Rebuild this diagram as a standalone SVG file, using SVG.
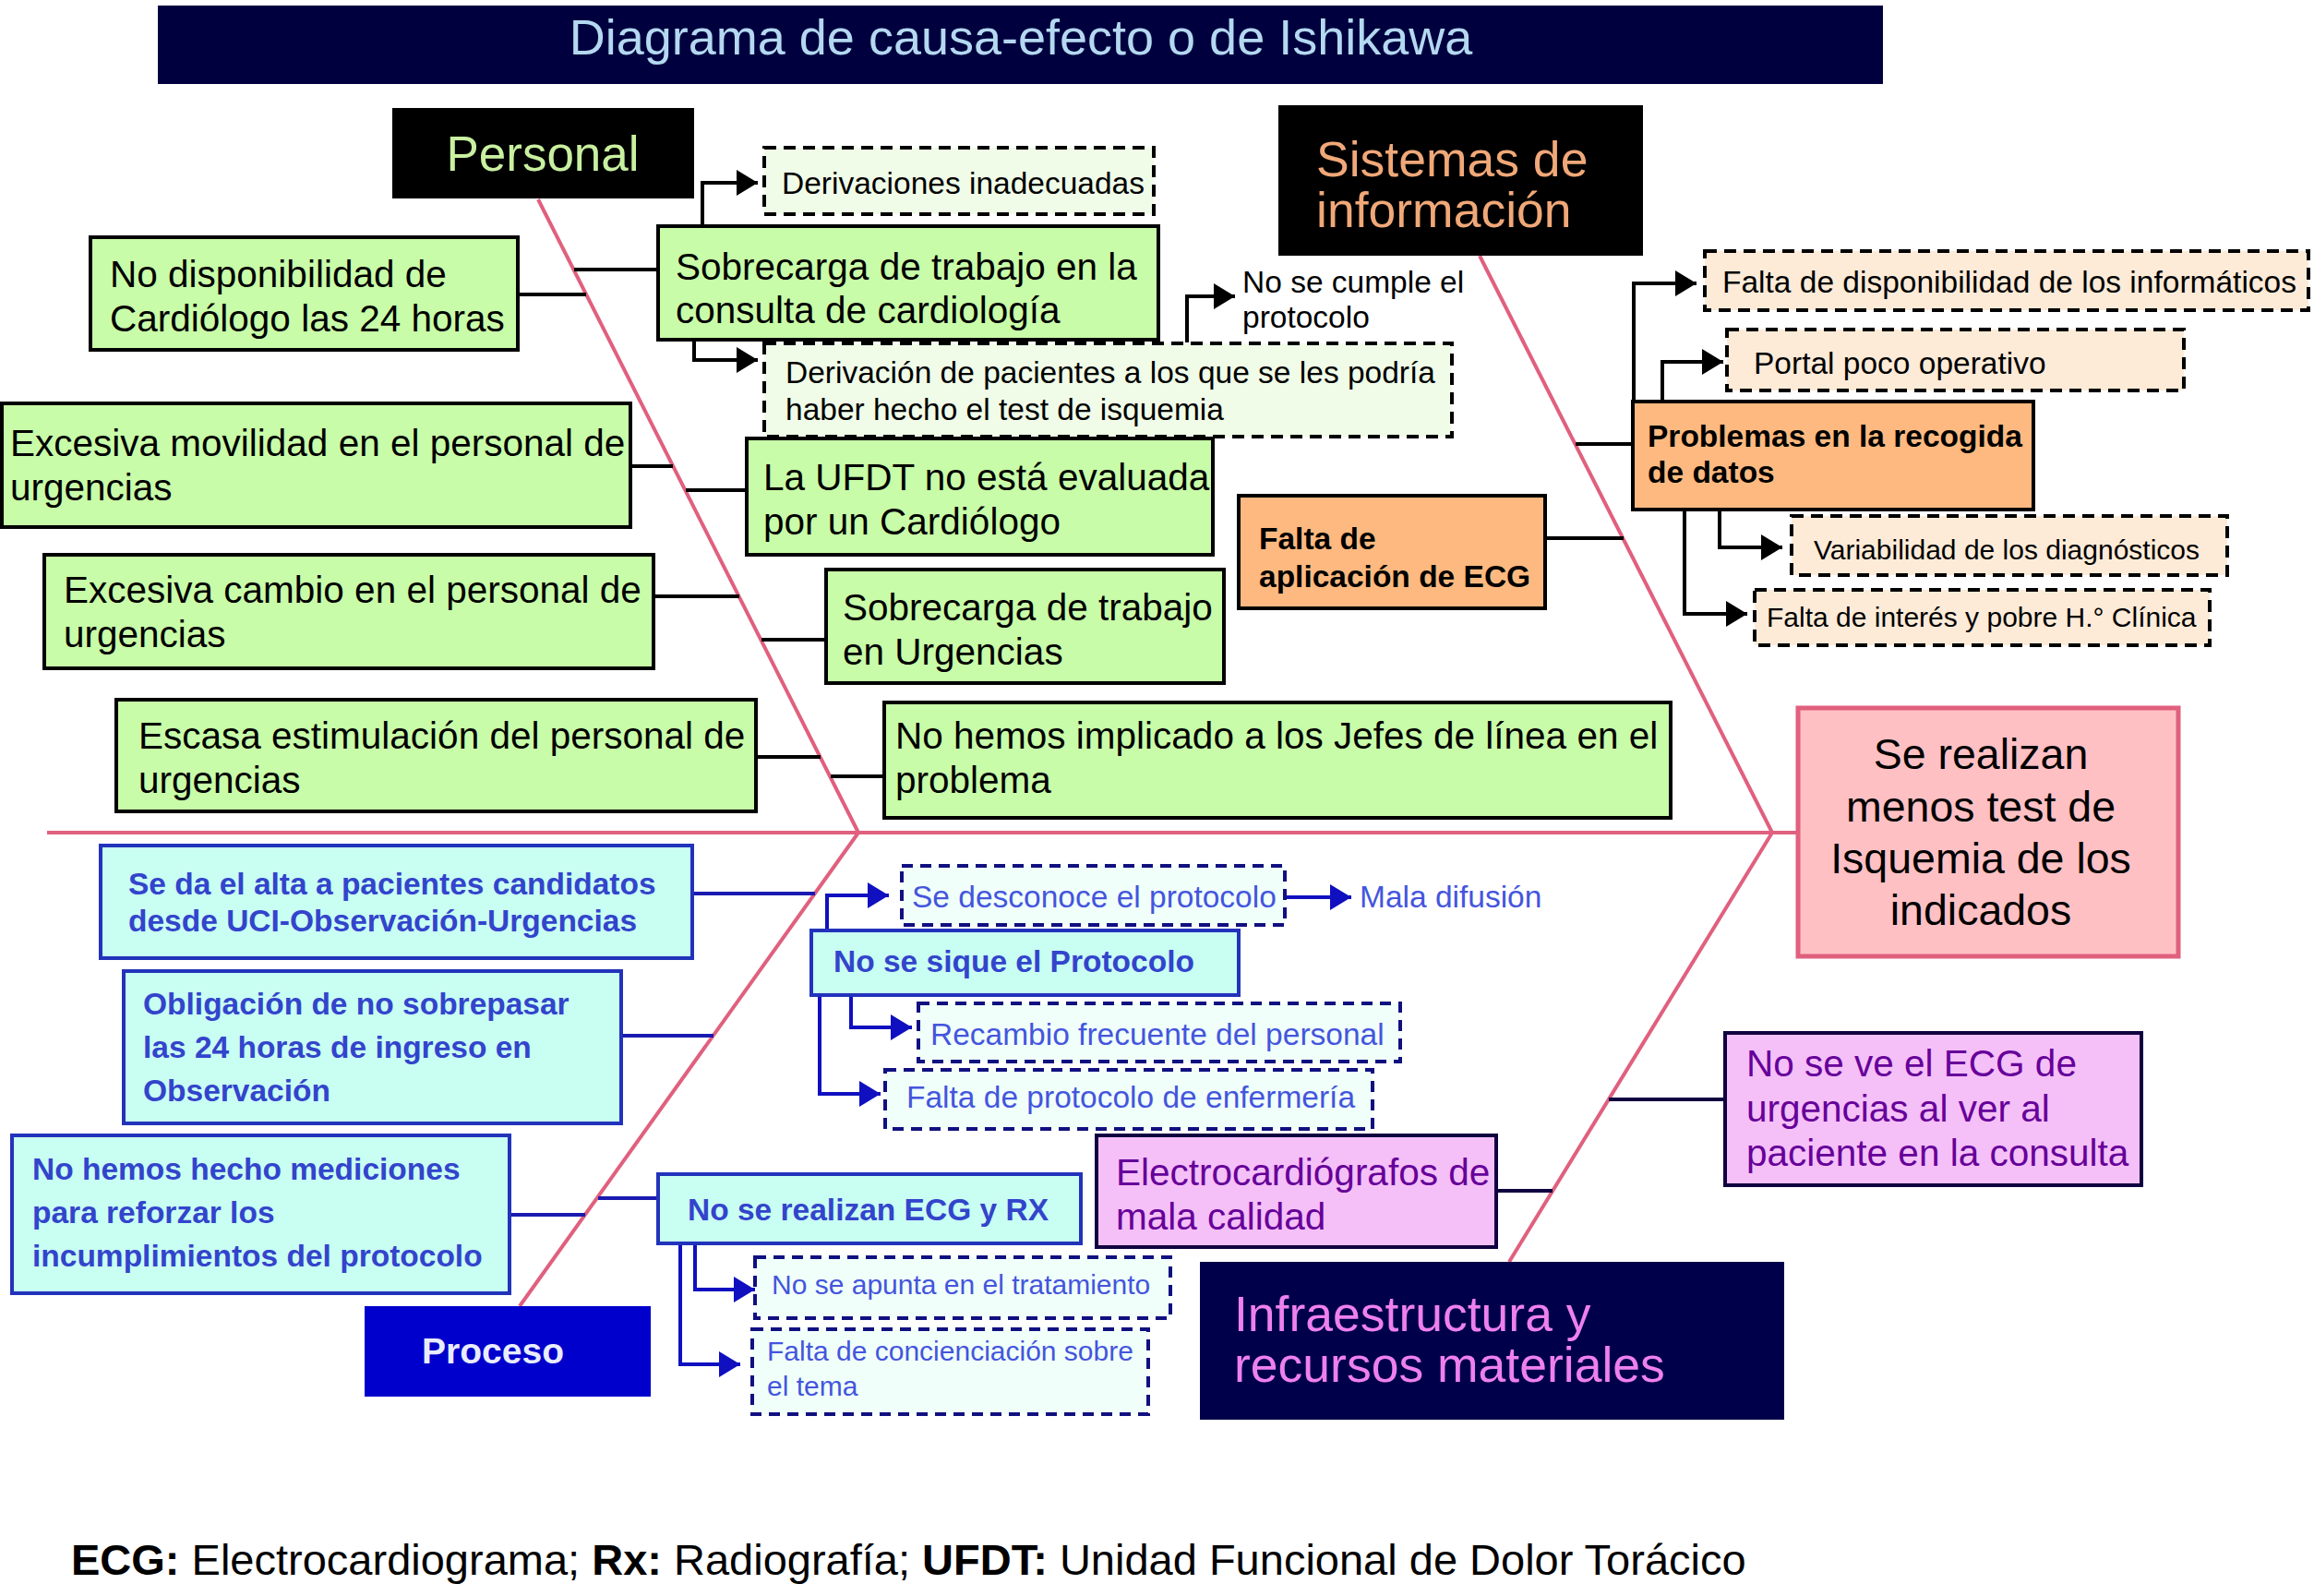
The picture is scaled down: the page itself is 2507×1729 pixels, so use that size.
<svg xmlns="http://www.w3.org/2000/svg" width="2507" height="1729" viewBox="0 0 2507 1729">
<defs>
<style>
text{font-family:"Liberation Sans",Arial,Helvetica,sans-serif}
.g{fill:#c8fca8;stroke:#000;stroke-width:4}
.gt{font-size:40.5px;fill:#000}
.dg{fill:#f0fce8;stroke:#000;stroke-width:4;stroke-dasharray:13 8}
.dp{fill:#fdebd8;stroke:#000;stroke-width:4;stroke-dasharray:13 8}
.dc{fill:#f0fffa;stroke:#101080;stroke-width:4;stroke-dasharray:12 8}
.st{font-size:33.5px;fill:#000}
.st30{font-size:30px;fill:#000}
.or{fill:#fdb97f;stroke:#000;stroke-width:4}
.bt{font-size:33.5px;font-weight:bold;fill:#000}
.cy{fill:#c8fff2;stroke:#2233bb;stroke-width:4}
.cbt{font-size:33.5px;font-weight:bold;fill:#3344cc}
.ct{font-size:33.5px;fill:#4455dd}
.ct30{font-size:30px;fill:#4455dd}
.mg{fill:#f5bff8;stroke:#100040;stroke-width:4}
.mt{font-size:40.5px;fill:#660099}
.bone{stroke:#e0607e;stroke-width:4;fill:none}
.k{stroke:#000;stroke-width:4;fill:none}
.b{stroke:#1a1ab0;stroke-width:4;fill:none}
.n{stroke:#100040;stroke-width:4;fill:none}
.ka{stroke:#000;stroke-width:4;fill:none;marker-end:url(#ak)}
.ba{stroke:#1010c0;stroke-width:4;fill:none;marker-end:url(#ab)}
</style>
<marker id="ak" markerUnits="userSpaceOnUse" markerWidth="24" markerHeight="30" refX="23" refY="14" orient="auto"><path d="M0,0 L23,14 L0,28 z" fill="#000"/></marker>
<marker id="ab" markerUnits="userSpaceOnUse" markerWidth="24" markerHeight="30" refX="23" refY="14" orient="auto"><path d="M0,0 L23,14 L0,28 z" fill="#1010c0"/></marker>
</defs>
<rect width="2507" height="1729" fill="#fff"/>

<g id="title">
<rect x="171" y="6" width="1869" height="85" fill="#00003f"/>
<text x="1106" y="59" font-size="54" fill="#b4d8f0" text-anchor="middle">Diagrama de causa-efecto o de Ishikawa</text>
</g>

<g id="connectors">
<path class="bone" d="M51,902 H1948"/>
<path class="bone" d="M583,216 L930,902"/>
<path class="bone" d="M1603,277 L1920,902"/>
<path class="bone" d="M563,1415 L930,902"/>
<path class="bone" d="M1635,1367 L1920,902"/>
<path class="k" d="M561,319 H635"/>
<path class="k" d="M622,292 H713"/>
<path class="k" d="M683,505 H729"/>
<path class="k" d="M743,531 H809"/>
<path class="k" d="M708,646 H801"/>
<path class="k" d="M825,693 H895"/>
<path class="k" d="M819,820 H889"/>
<path class="k" d="M900,841 H958"/>
<path class="k" d="M1674,583 H1759"/>
<path class="k" d="M1707,481 H1769"/>
<path class="ka" d="M761,245 V198 H821"/>
<path class="ka" d="M752,368 V390 H821"/>
<path class="ka" d="M1286,371 V321 H1338"/>
<path class="ka" d="M1770,435 V307 H1838"/>
<path class="ka" d="M1801,435 V392 H1867"/>
<path class="ka" d="M1863,552 V593 H1931"/>
<path class="ka" d="M1825,552 V665 H1893"/>
<path class="b" d="M750,968 H883"/>
<path class="b" d="M673,1122 H773"/>
<path class="b" d="M552,1316 H634"/>
<path class="b" d="M648,1298 H713"/>
<path class="ba" d="M896,1008 V970 H963"/>
<path class="ba" d="M1392,972 H1464"/>
<path class="ba" d="M922,1078 V1113 H988"/>
<path class="ba" d="M888,1078 V1185 H954"/>
<path class="ba" d="M753,1347 V1397 H818"/>
<path class="ba" d="M737,1347 V1478 H802"/>
<path class="n" d="M1621,1290 H1682"/>
<path class="n" d="M1743,1191 H1869"/>
</g>

<g id="personal">
<rect x="425" y="117" width="327" height="98" fill="#000"/>
<text x="588" y="185" font-size="53" fill="#c8f0a0" text-anchor="middle">Personal</text>
</g>

<g id="sistemas">
<rect x="1385" y="114" width="395" height="163" fill="#000"/>
<text x="1426" y="191" font-size="53.5" fill="#f0a878">Sistemas de</text>
<text x="1426" y="246" font-size="53.5" fill="#f0a878">información</text>
</g>

<g id="derivaciones-inadecuadas">
<rect class="dg" x="828" y="160" width="422" height="72"/>
<text class="st" x="847" y="210">Derivaciones inadecuadas</text>
</g>

<g id="sobrecarga-consulta">
<rect class="g" x="713" y="245" width="542" height="123"/>
<text class="gt" x="732" y="303">Sobrecarga de trabajo en la</text>
<text class="gt" x="732" y="350">consulta de cardiología</text>
</g>

<g id="no-se-cumple">
<text class="st" x="1346" y="317">No se cumple el</text>
<text class="st" x="1346" y="355">protocolo</text>
</g>

<g id="derivacion-pacientes">
<rect class="dg" x="828" y="372" width="745" height="101"/>
<text class="st" x="851" y="415">Derivación de pacientes a los que se les podría</text>
<text class="st" x="851" y="455">haber hecho el test de isquemia</text>
</g>

<g id="no-disponibilidad">
<rect class="g" x="98" y="257" width="463" height="122"/>
<text class="gt" x="119" y="311">No disponibilidad de</text>
<text class="gt" x="119" y="359">Cardiólogo las 24 horas</text>
</g>

<g id="excesiva-movilidad">
<rect class="g" x="2" y="437" width="681" height="134"/>
<text class="gt" x="11" y="494">Excesiva movilidad en el personal de</text>
<text class="gt" x="11" y="542">urgencias</text>
</g>

<g id="ufdt">
<rect class="g" x="809" y="475" width="505" height="126"/>
<text class="gt" x="827" y="531">La UFDT no está evaluada</text>
<text class="gt" x="827" y="579">por un Cardiólogo</text>
</g>

<g id="excesiva-cambio">
<rect class="g" x="48" y="601" width="660" height="123"/>
<text class="gt" x="69" y="653">Excesiva cambio en el personal de</text>
<text class="gt" x="69" y="701">urgencias</text>
</g>

<g id="sobrecarga-urgencias">
<rect class="g" x="895" y="617" width="431" height="123"/>
<text class="gt" x="913" y="672">Sobrecarga de trabajo</text>
<text class="gt" x="913" y="720">en Urgencias</text>
</g>

<g id="escasa-estimulacion">
<rect class="g" x="126" y="758" width="693" height="121"/>
<text class="gt" x="150" y="811">Escasa estimulación del personal de</text>
<text class="gt" x="150" y="859">urgencias</text>
</g>

<g id="jefes-linea">
<rect class="g" x="958" y="761" width="852" height="125"/>
<text class="gt" x="970" y="811">No hemos implicado a los Jefes de línea en el</text>
<text class="gt" x="970" y="859">problema</text>
</g>

<g id="falta-aplicacion-ecg">
<rect class="or" x="1342" y="537" width="332" height="122"/>
<text class="bt" x="1364" y="595">Falta de</text>
<text class="bt" x="1364" y="636">aplicación de ECG</text>
</g>

<g id="problemas-recogida">
<rect class="or" x="1769" y="435" width="434" height="117"/>
<text class="bt" x="1785" y="484">Problemas en la recogida</text>
<text class="bt" x="1785" y="523">de datos</text>
</g>

<g id="falta-informaticos">
<rect class="dp" x="1847" y="272" width="654" height="64"/>
<text class="st" x="1866" y="317" font-size="34">Falta de disponibilidad de los informáticos</text>
</g>

<g id="portal">
<rect class="dp" x="1871" y="357" width="495" height="66"/>
<text class="st" x="1900" y="405">Portal poco operativo</text>
</g>

<g id="variabilidad">
<rect class="dp" x="1941" y="559" width="472" height="64"/>
<text class="st30" x="1965" y="606">Variabilidad de los diagnósticos</text>
</g>

<g id="falta-interes">
<rect class="dp" x="1901" y="639" width="493" height="60"/>
<text class="st30" x="1914" y="679">Falta de interés y pobre H.° Clínica</text>
</g>

<g id="efecto">
<rect x="1948" y="767" width="412" height="269" fill="#ffc0c4" stroke="#e0607e" stroke-width="5"/>
<text x="2146" y="833" font-size="46.5" text-anchor="middle">Se realizan</text>
<text x="2146" y="890" font-size="46.5" text-anchor="middle">menos test de</text>
<text x="2146" y="946" font-size="46.5" text-anchor="middle">Isquemia de los</text>
<text x="2146" y="1002" font-size="46.5" text-anchor="middle">indicados</text>
</g>

<g id="se-da-el-alta">
<rect class="cy" x="109" y="916" width="641" height="122"/>
<text class="cbt" x="139" y="969">Se da el alta a pacientes candidatos</text>
<text class="cbt" x="139" y="1009">desde UCI-Observación-Urgencias</text>
</g>

<g id="obligacion">
<rect class="cy" x="134" y="1052" width="539" height="165"/>
<text class="cbt" x="155" y="1099">Obligación de no sobrepasar</text>
<text class="cbt" x="155" y="1146">las 24 horas de ingreso en</text>
<text class="cbt" x="155" y="1193">Observación</text>
</g>

<g id="mediciones">
<rect class="cy" x="13" y="1230" width="539" height="171"/>
<text class="cbt" x="35" y="1278">No hemos hecho mediciones</text>
<text class="cbt" x="35" y="1325">para reforzar los</text>
<text class="cbt" x="35" y="1372">incumplimientos del protocolo</text>
</g>

<g id="proceso">
<rect x="395" y="1415" width="310" height="98" fill="#0000cc"/>
<text x="534" y="1477" font-size="39" font-weight="bold" fill="#e8ecff" text-anchor="middle">Proceso</text>
</g>

<g id="se-desconoce">
<rect class="dc" x="977" y="938" width="415" height="64"/>
<text class="ct" x="988" y="983">Se desconoce el protocolo</text>
</g>

<g id="mala-difusion">
<text class="ct" x="1473" y="983">Mala difusión</text>
</g>

<g id="no-se-sigue">
<rect class="cy" x="879" y="1008" width="463" height="70"/>
<text class="cbt" x="903" y="1053">No se sique el Protocolo</text>
</g>

<g id="recambio">
<rect class="dc" x="995" y="1087" width="522" height="63"/>
<text class="ct" x="1008" y="1132">Recambio frecuente del personal</text>
</g>

<g id="falta-protocolo-enf">
<rect class="dc" x="959" y="1159" width="528" height="64"/>
<text class="ct" x="982" y="1200">Falta de protocolo de enfermería</text>
</g>

<g id="no-se-realizan">
<rect class="cy" x="713" y="1272" width="458" height="75"/>
<text class="cbt" x="745" y="1322">No se realizan ECG y RX</text>
</g>

<g id="no-se-apunta">
<rect class="dc" x="818" y="1362" width="450" height="66"/>
<text class="ct30" x="836" y="1402">No se apunta en el tratamiento</text>
</g>

<g id="falta-concienciacion">
<rect class="dc" x="815" y="1440" width="429" height="92"/>
<text class="ct30" x="831" y="1474">Falta de concienciación sobre</text>
<text class="ct30" x="831" y="1512">el tema</text>
</g>

<g id="electrocardiografos">
<rect class="mg" x="1188" y="1230" width="433" height="121"/>
<text class="mt" x="1209" y="1284">Electrocardiógrafos de</text>
<text class="mt" x="1209" y="1332">mala calidad</text>
</g>

<g id="no-se-ve-ecg">
<rect class="mg" x="1869" y="1119" width="451" height="165"/>
<text class="mt" x="1892" y="1166">No se ve el ECG de</text>
<text class="mt" x="1892" y="1215">urgencias al ver al</text>
<text class="mt" x="1892" y="1263">paciente en la consulta</text>
</g>

<g id="infraestructura">
<rect x="1300" y="1367" width="633" height="171" fill="#00004a"/>
<text x="1337" y="1442" font-size="53.5" fill="#ee80ee">Infraestructura y</text>
<text x="1337" y="1497" font-size="53.5" fill="#ee80ee">recursos materiales</text>
</g>

<g id="footnote">
<text x="77" y="1706" font-size="47"><tspan font-weight="bold">ECG:</tspan> Electrocardiograma; <tspan font-weight="bold">Rx:</tspan> Radiografía; <tspan font-weight="bold">UFDT:</tspan> Unidad Funcional de Dolor Torácico</text>
</g>
</svg>
